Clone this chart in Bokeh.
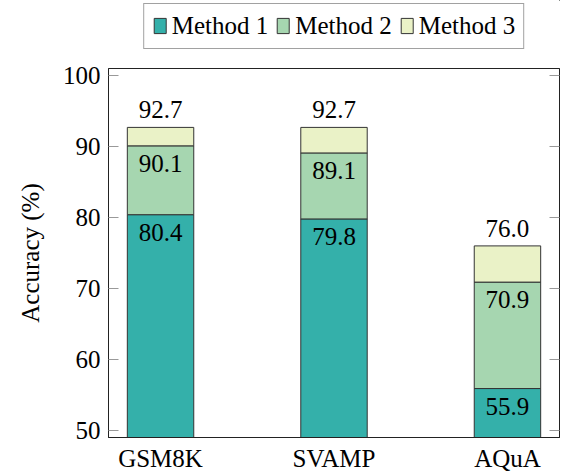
from bokeh.plotting import figure
from bokeh.layouts import column
from bokeh.models import (ColumnDataSource, LinearAxis, FixedTicker, Legend,
                          LegendItem, LabelSet, Range1d)
from bokeh.embed import file_html
from bokeh.resources import INLINE

categories = ["GSM8K", "SVAMP", "AQuA"]
method1 = [80.4, 79.8, 55.9]
method2 = [90.1, 89.1, 70.9]
method3 = [92.7, 92.7, 76.0]
series_names = ["Method 1", "Method 2", "Method 3"]
colors = ["#34B0AA", "#A6D6B0", "#EAF2C7"]
y_ticks = [50, 60, 70, 80, 90, 100]

FONT = "Liberation Serif"
FS = "25px"

xs = list(range(len(categories)))
p = figure(width=566, height=423, output_backend="svg", toolbar_location=None,
           x_range=Range1d(-0.3, 2.3), y_range=Range1d(49, 101),
           min_border_left=108, min_border_right=7, min_border_top=17,
           min_border_bottom=0)
p.xgrid.visible = False
p.ygrid.visible = False
p.outline_line_color = "#222222"
p.outline_line_width = 1

bottoms = [[0] * 3, method1, method2]
tops = [method1, method2, method3]
for i in range(3):
    src = ColumnDataSource(dict(x=xs, bottom=bottoms[i], top=tops[i]))
    p.vbar(x="x", bottom="bottom", top="top", width=0.383, source=src,
           fill_color=colors[i], line_color="#333333", line_width=1)

# labels inside segments (methods 1 and 2)
for vals in (method1, method2):
    src = ColumnDataSource(dict(x=xs, y=vals, t=["%.1f" % v for v in vals]))
    p.add_layout(LabelSet(x="x", y="y", text="t", source=src,
                          text_align="center", text_baseline="top",
                          y_offset=-9, text_font=FONT, text_font_size=FS,
                          text_color="black"))
src = ColumnDataSource(dict(x=xs, y=method3, t=["%.1f" % v for v in method3]))
p.add_layout(LabelSet(x="x", y="y", text="t", source=src,
                      text_align="center", text_baseline="bottom",
                      y_offset=9, text_font=FONT, text_font_size=FS,
                      text_color="black"))

# axes
yax = p.yaxis[0]
yax.ticker = FixedTicker(ticks=y_ticks)
yax.axis_label = "Accuracy (%)"
yax.axis_label_text_font = FONT
yax.axis_label_text_font_size = FS
yax.axis_label_text_font_style = "normal"
yax.axis_label_text_color = "black"
yax.axis_label_standoff = 16
yax.major_label_text_font = FONT
yax.major_label_text_font_size = FS
yax.major_label_text_color = "black"
yax.major_label_standoff = 8
yax.major_tick_in = 10
yax.major_tick_out = 0
yax.major_tick_line_color = "#999999"
yax.minor_tick_line_color = None
yax.axis_line_color = "#222222"

rax = LinearAxis(ticker=FixedTicker(ticks=y_ticks))
rax.major_label_overrides = {t: "" for t in y_ticks}
rax.major_label_standoff = 0
rax.major_tick_in = 10
rax.major_tick_out = 0
rax.major_tick_line_color = "#999999"
rax.minor_tick_line_color = None
rax.axis_line_color = "#222222"
p.add_layout(rax, "right")

xax = p.xaxis[0]
xax.ticker = FixedTicker(ticks=xs)
xax.major_label_overrides = {i: c for i, c in enumerate(categories)}
xax.major_label_text_font = FONT
xax.major_label_text_font_size = FS
xax.major_label_text_color = "black"
xax.major_label_standoff = 1
xax.major_tick_line_color = None
xax.minor_tick_line_color = None
xax.axis_line_color = "#222222"

# legend in a separate strip above the plot
lg = figure(width=566, height=51, output_backend="svg", toolbar_location=None,
            x_range=Range1d(0, 1), y_range=Range1d(0, 1),
            min_border_left=108, min_border_right=7, min_border_top=0,
            min_border_bottom=0)
lg.axis.visible = False
lg.xgrid.visible = False
lg.ygrid.visible = False
lg.outline_line_color = None
dummies = []
for i in range(3):
    src = ColumnDataSource(dict(x=[10], bottom=[10], top=[11]))
    dummies.append(lg.vbar(x="x", bottom="bottom", top="top", width=0.1, source=src,
                           fill_color=colors[i], line_color="#333333", line_width=1))
legend = Legend(items=[LegendItem(label=series_names[i], renderers=[dummies[i]])
                       for i in range(3)],
                orientation="horizontal", location="center")
legend.label_text_font = FONT
legend.label_text_font_size = FS
legend.label_text_color = "black"
legend.glyph_width = 15
legend.glyph_height = 19
legend.label_standoff = 5
legend.spacing = 7
legend.padding = 8
legend.margin = 0
legend.border_line_color = "#444444"
legend.border_line_width = 1
lg.add_layout(legend, "center")

layout = column(lg, p, spacing=0)
open("out.html", "w").write(file_html(layout, INLINE))
